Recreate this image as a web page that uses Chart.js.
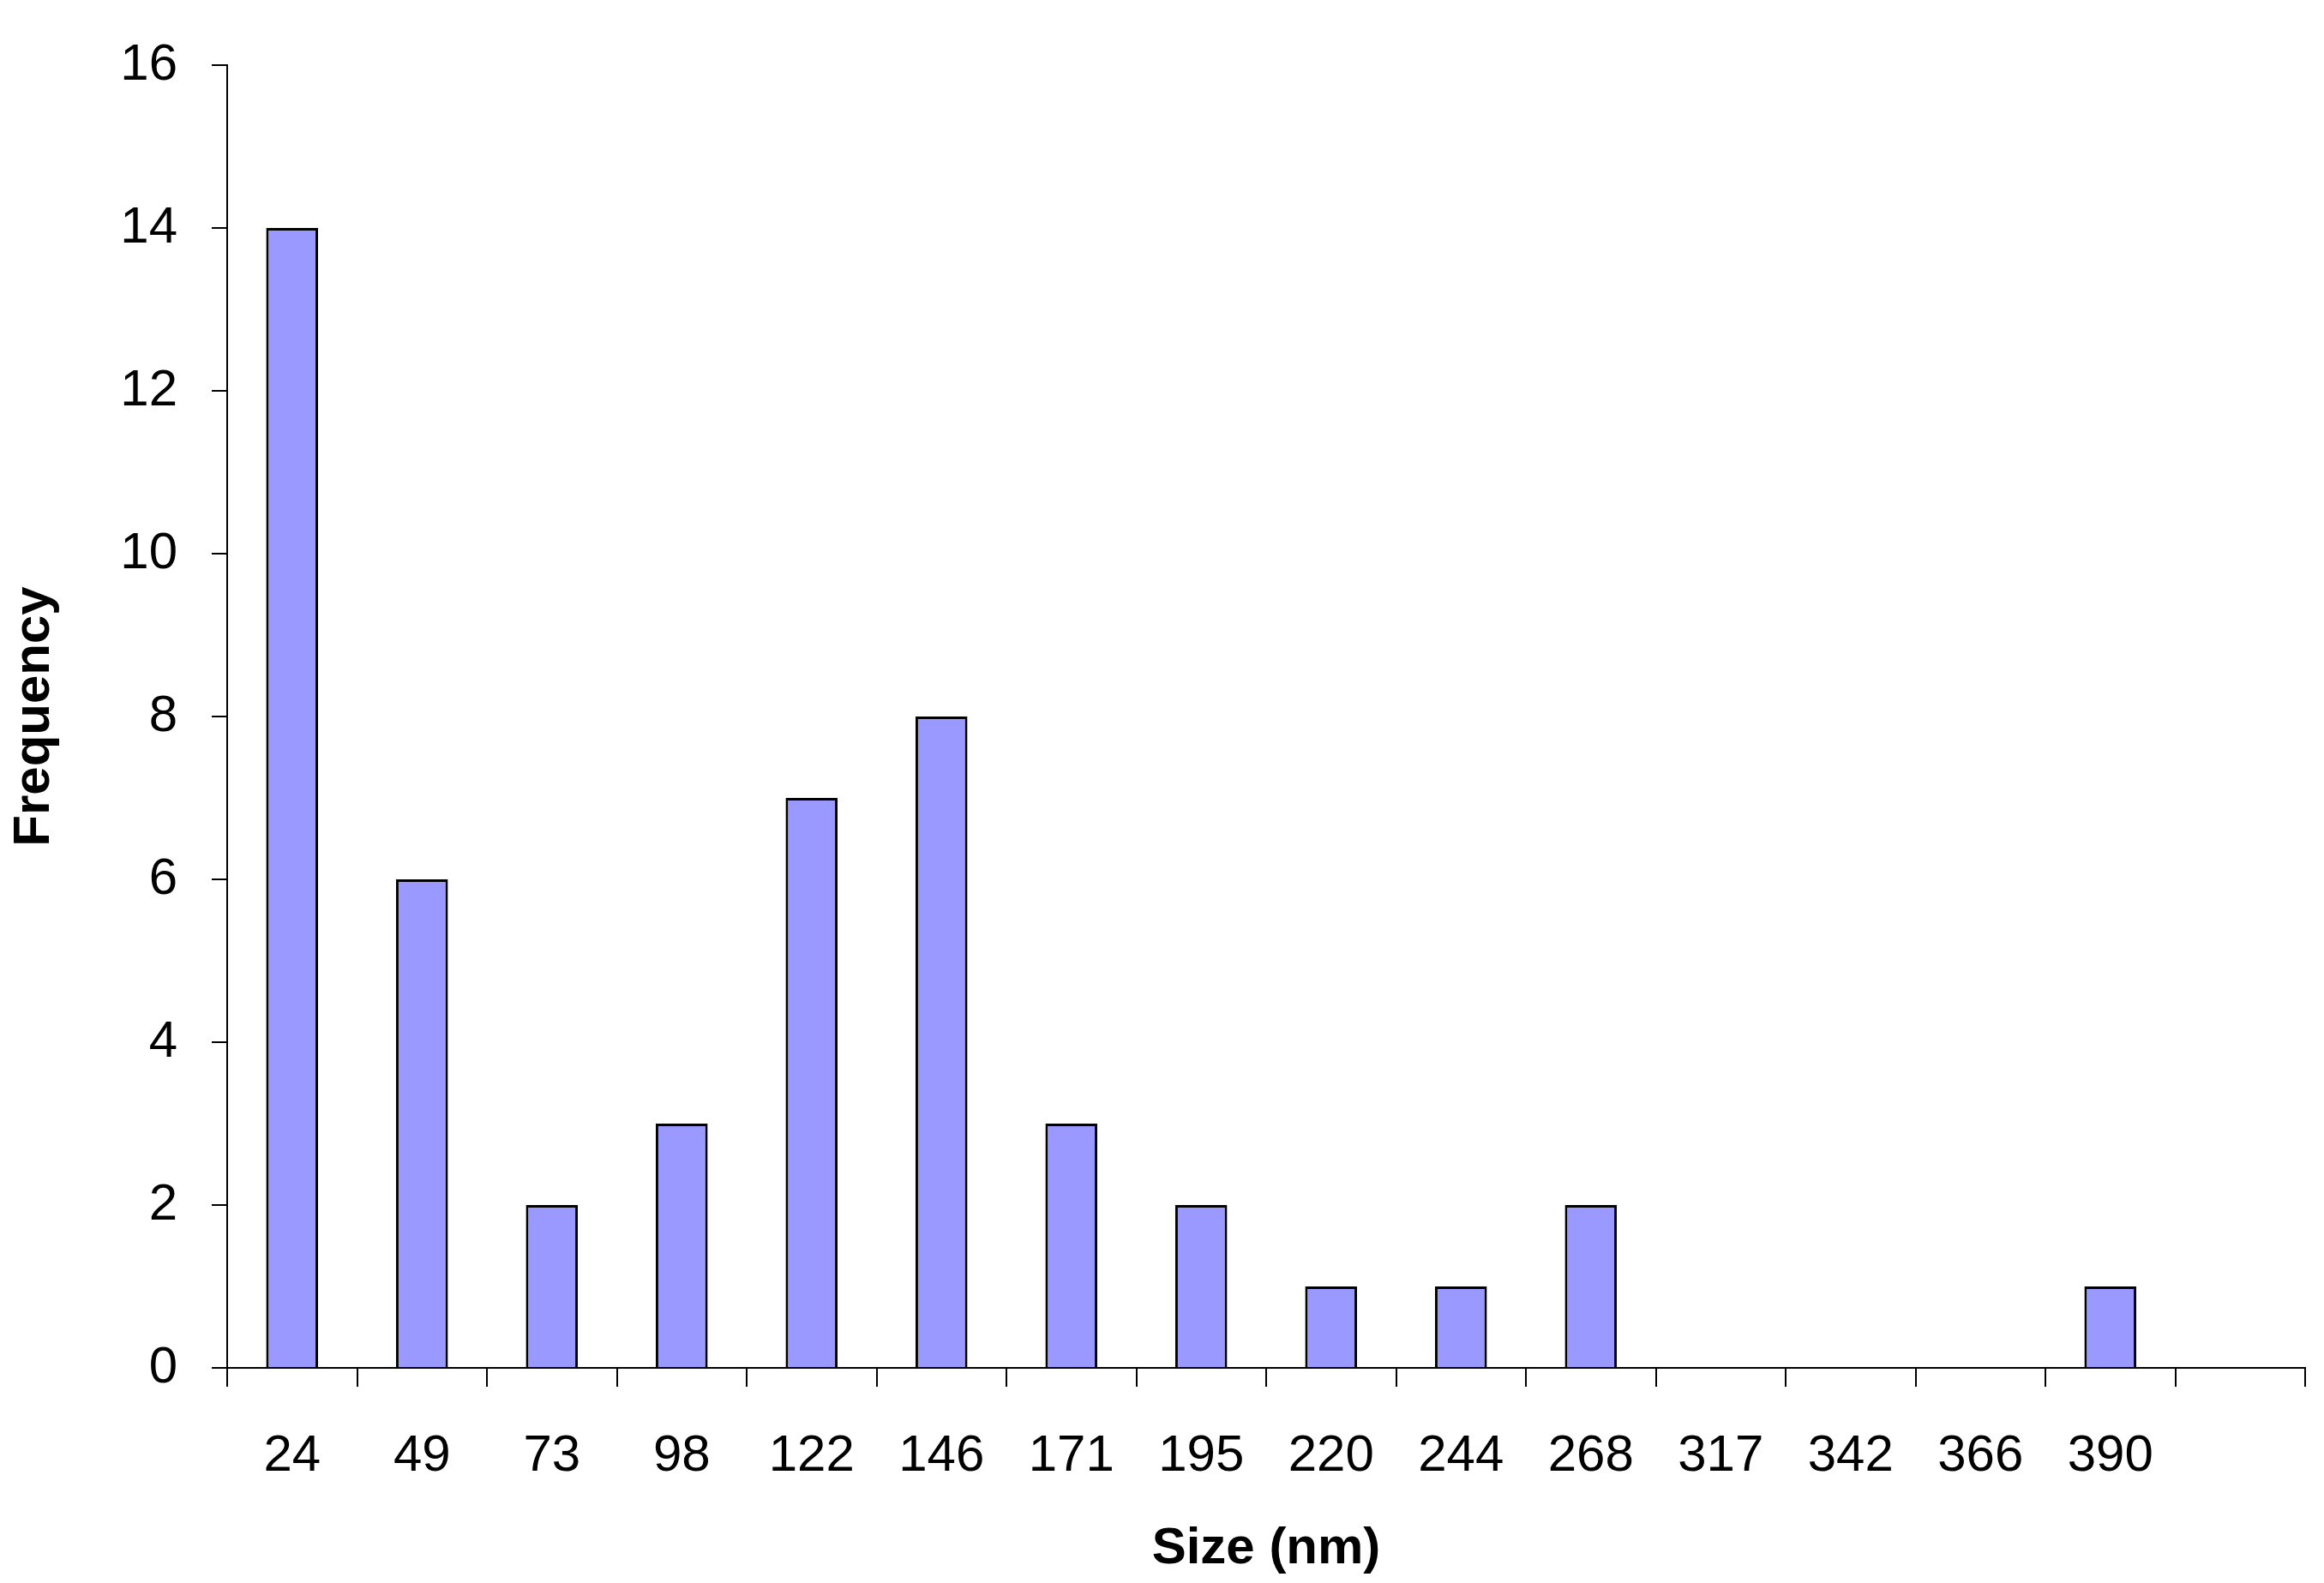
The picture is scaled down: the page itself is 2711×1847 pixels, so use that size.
<!DOCTYPE html>
<html>
<head>
<meta charset="utf-8">
<script src="https://cdn.jsdelivr.net/npm/chart.js@4"></script>
<style>
  html, body { margin: 0; padding: 0; background: #fff; }
  #wrap { width: 2711px; height: 1847px; }
</style>
</head>
<body>
<div id="wrap"><canvas id="c"></canvas></div>
<script>
const sizeLabels = ['24', '49', '73', '98', '122', '146', '171', '195', '220', '244', '268', '317', '342', '366', '390', ''];
const frequency = [14, 6, 2, 3, 7, 8, 3, 2, 1, 1, 2, 0, 0, 0, 1, 0];
const yTicks = [0, 2, 4, 6, 8, 10, 12, 14, 16];

const font = 'Arial, "Liberation Sans", sans-serif';

new Chart(document.getElementById('c'), {
  type: 'bar',
  data: {
    labels: sizeLabels,
    datasets: [{
      data: frequency,
      backgroundColor: '#9999ff',
      borderColor: '#000',
      borderWidth: 3,
      barPercentage: 0.4,
      categoryPercentage: 1,
    }],
  },
  options: {
    responsive: true,
    maintainAspectRatio: false,
    devicePixelRatio: 1,
    animation: false,
    layout: { padding: { top: 43, right: 22, left: 0, bottom: 0 } },
    plugins: { legend: { display: false }, tooltip: { enabled: false } },
    scales: {
      x: {
        offset: true,
        grid: { offset: true, drawOnChartArea: false, color: '#000', lineWidth: 2, tickLength: 22 },
        border: { color: '#000', width: 2 },
        ticks: { color: '#000', font: { family: font, size: 60 }, padding: 45, maxRotation: 0, autoSkip: false },
        title: { display: true, text: 'Size (nm)', color: '#000', font: { family: font, size: 60, weight: 'bold' }, padding: { top: 10 } },
        afterFit: (s) => { s.height = 251; },
      },
      y: {
        min: 0, max: 16,
        afterBuildTicks: (s) => { s.ticks = yTicks.map((v) => ({ value: v })); },
        grid: { drawOnChartArea: false, color: '#000', lineWidth: 2, tickLength: 18 },
        border: { color: '#000', width: 2 },
        ticks: { color: '#000', font: { family: font, size: 60 }, padding: 40 },
        title: { display: true, text: 'Frequency', color: '#000', font: { family: font, size: 60, weight: 'bold' }, padding: { bottom: 10 } },
        afterFit: (s) => { s.width = 265; },
      },
    },
  },
});
</script>
</body>
</html>
